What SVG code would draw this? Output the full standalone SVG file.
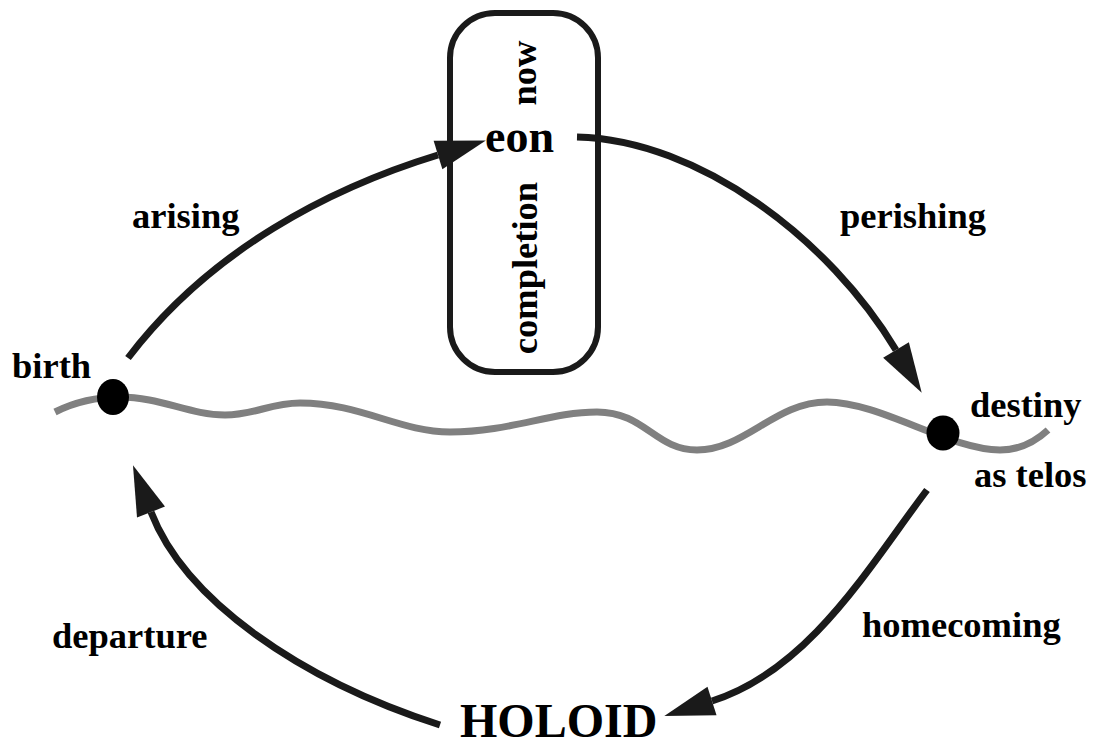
<svg xmlns="http://www.w3.org/2000/svg" width="1093" height="746" viewBox="0 0 1093 746">
<style>
  .lbl { font-family: "Liberation Serif", "Times New Roman", serif; font-weight: bold; font-size: 36.5px; fill: #000; }
  .big { font-size: 46px; }
  .huge { font-size: 48px; }
  .conn { fill: none; stroke: #1a1a1a; stroke-width: 7; }
  .wave { fill: none; stroke: #808080; stroke-width: 7; }
  .box { fill: none; stroke: #1a1a1a; stroke-width: 6; }
  .dot { fill: #000; }
</style>
<defs>
  <marker id="arrow" markerUnits="userSpaceOnUse" viewBox="0 -15 50 30" refX="0" refY="0" markerWidth="50" markerHeight="30" orient="auto" overflow="visible">
    <path d="M0,-15 L50,0 L0,15 z" fill="#1a1a1a"/>
  </marker>
</defs>

<g id="timeline">
  <path class="wave" d="M55,412 C75,402 95,397 120,397 C160,397 190,415 225,415 C255,415 270,403 300,403 C360,403 400,432 450,432 C510,432 550,412 597,412 C645,412 655,450 697,450 C745,450 775,402 827,402 C880,402 950,450 1000,450 C1020,450 1035,442 1048,430"/>
</g>

<g id="eon-node">
  <rect class="box" x="450" y="13" width="148" height="359" rx="45" ry="45"/>
  <text class="lbl" text-anchor="middle" transform="translate(536,73) rotate(-90)">now</text>
  <text class="lbl big" x="485" y="152">eon</text>
  <text class="lbl" text-anchor="middle" transform="translate(537,268) rotate(-90)">completion</text>
</g>

<g id="birth-node">
  <ellipse class="dot" cx="113" cy="397" rx="16" ry="18"/>
  <text class="lbl" x="12" y="378">birth</text>
</g>

<g id="destiny-node">
  <ellipse class="dot" cx="943" cy="433" rx="16.5" ry="17.5"/>
  <text class="lbl" x="970" y="417">destiny</text>
  <text class="lbl" x="974" y="487">as telos</text>
</g>

<g id="holoid-node">
  <text class="lbl huge" x="460" y="737">HOLOID</text>
</g>

<g id="connectors">
  <path class="conn" marker-end="url(#arrow)" d="M128,358 C210,250 330,188 438,155"/>
  <path class="conn" marker-end="url(#arrow)" d="M577,137 C700,140 830,240 896,350"/>
  <path class="conn" marker-end="url(#arrow)" d="M927,490 C870,565 810,670 712,701"/>
  <path class="conn" marker-end="url(#arrow)" d="M440,725 C300,680 185,600 151,512"/>
</g>

<g id="edge-labels">
  <text class="lbl" x="132" y="228">arising</text>
  <text class="lbl" x="840" y="228">perishing</text>
  <text class="lbl" x="862" y="637">homecoming</text>
  <text class="lbl" x="52" y="648">departure</text>
</g>
</svg>
